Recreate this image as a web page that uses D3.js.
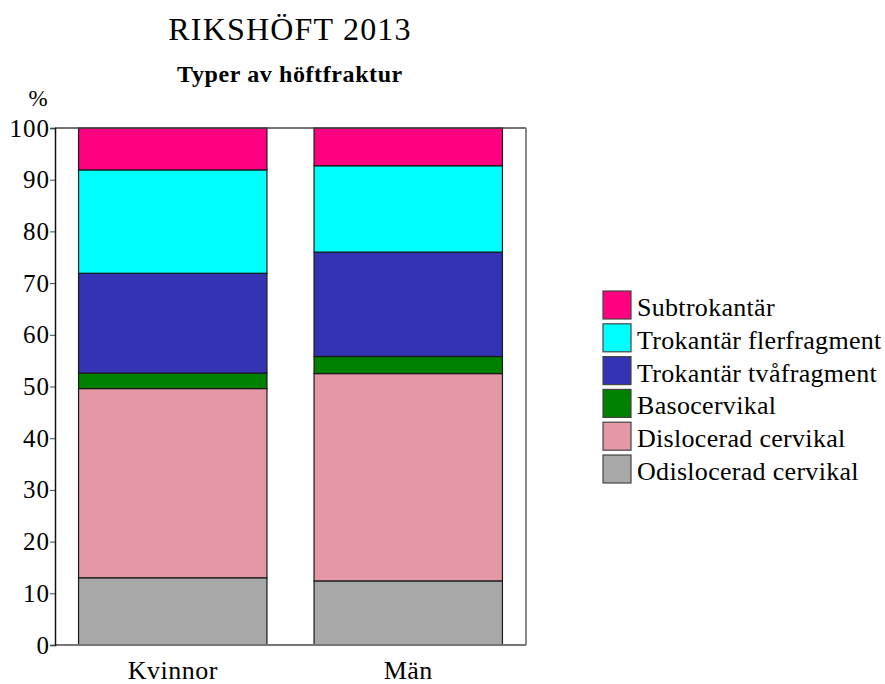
<!DOCTYPE html>
<html>
<head>
<meta charset="utf-8">
<script src="https://cdn.jsdelivr.net/npm/d3@7"></script>
<style>
  body { margin: 0; background: #fff; }
  svg text { font-family: "Liberation Serif", "Times New Roman", serif; fill: #000; }
</style>
</head>
<body>
<div id="chart"></div>
<script>
// data (percent)
const groups = ["Kvinnor", "Män"];
const types = ["Odislocerad cervikal", "Dislocerad cervikal", "Basocervikal",
               "Trokantär tvåfragment", "Trokantär flerfragment", "Subtrokantär"];
const kvinnor = [13.0, 36.6, 3.0, 19.3, 20.0, 8.1];
const man = [12.4, 40.1, 3.3, 20.2, 16.7, 7.3];
const colors = ["#a8a8a8", "#e498a5", "#008000", "#3333b3", "#00ffff", "#ff0080"];
const yTicks = [0, 10, 20, 30, 40, 50, 60, 70, 80, 90, 100];

const w = 885, h = 684;
const margin = {top: 128, left: 55, right: 359, bottom: 39};

// build rows for d3.stack
const rows = groups.map(function(g, i) {
  const vals = i === 0 ? kvinnor : man;
  const row = {group: g};
  types.forEach(function(t, j) { row[t] = vals[j]; });
  return row;
});
const series = d3.stack().keys(types)(rows);

const svg = d3.select("#chart").append("svg")
  .attr("width", w)
  .attr("height", h);

const x = d3.scaleBand()
  .domain(groups)
  .range([margin.left, w - margin.right])
  .paddingInner(0.2)
  .paddingOuter(0.1);

const y = d3.scaleLinear()
  .domain([0, 100])
  .range([h - margin.bottom, margin.top]);

// titles
svg.append("text")
  .attr("x", 290).attr("y", 40)
  .attr("text-anchor", "middle")
  .style("font-size", "32px")
  .style("letter-spacing", "1.2px")
  .text("RIKSHÖFT 2013");

svg.append("text")
  .attr("x", 290).attr("y", 82)
  .attr("text-anchor", "middle")
  .style("font-size", "24px")
  .style("font-weight", "bold")
  .style("letter-spacing", "0.6px")
  .text("Typer av höftfraktur");

svg.append("text")
  .attr("x", 38).attr("y", 106)
  .attr("text-anchor", "middle")
  .style("font-size", "23px")
  .text("%");

// bars
svg.append("g")
  .selectAll("g")
  .data(series)
  .enter()
  .append("g")
  .attr("fill", (d, i) => colors[i])
  .selectAll("rect")
  .data(d => d)
  .enter()
  .append("rect")
  .attr("x", d => x(d.data.group))
  .attr("width", x.bandwidth())
  .attr("y", d => y(d[1]))
  .attr("height", d => y(d[0]) - y(d[1]))
  .attr("stroke", "#1a1a1a")
  .attr("stroke-width", 1.2);

// frame
const x0 = margin.left, x1 = w - margin.right, yt = y(100), yb = y(0);
svg.append("line").attr("x1", x0).attr("x2", x1).attr("y1", yt).attr("y2", yt)
  .attr("stroke", "#444").attr("stroke-width", 1.5);
svg.append("line").attr("x1", x1).attr("x2", x1).attr("y1", yt).attr("y2", yb)
  .attr("stroke", "#888").attr("stroke-width", 2);
svg.append("line").attr("x1", x0).attr("x2", x1).attr("y1", yb).attr("y2", yb)
  .attr("stroke", "#777").attr("stroke-width", 2);

// y axis
const yAxis = svg.append("g")
  .attr("transform", "translate(" + x0 + ",0)")
  .call(d3.axisLeft(y).tickValues(yTicks).tickSize(5).tickPadding(0));
yAxis.select(".domain").attr("stroke", "#111").attr("stroke-width", 1.5);
yAxis.selectAll(".tick line").attr("stroke", "#444");
yAxis.selectAll("text")
  .style("font-size", "25px")
  .style("letter-spacing", "1px")
  .style("font-family", "'Liberation Serif', serif")
  .attr("fill", "#000");

// x labels
svg.append("g")
  .selectAll("text")
  .data(groups)
  .enter()
  .append("text")
  .attr("x", d => x(d) + x.bandwidth() / 2)
  .attr("y", 679)
  .attr("text-anchor", "middle")
  .style("font-size", "26px")
  .style("letter-spacing", "0.5px")
  .text(d => d);

// legend, top item is last series
const legendItems = types.slice().reverse();
const legend = svg.append("g")
  .selectAll("g")
  .data(legendItems)
  .enter()
  .append("g")
  .attr("transform", (d, i) => "translate(603," + (291 + i * 32.8) + ")");

legend.append("rect")
  .attr("width", 28)
  .attr("height", 28)
  .attr("fill", d => colors[types.indexOf(d)])
  .attr("stroke", "#444")
  .attr("stroke-width", 1.2);

legend.append("text")
  .attr("x", 34)
  .attr("y", 25)
  .style("font-size", "26px")
  .style("letter-spacing", "0.3px")
  .text(d => d);
</script>
</body>
</html>
